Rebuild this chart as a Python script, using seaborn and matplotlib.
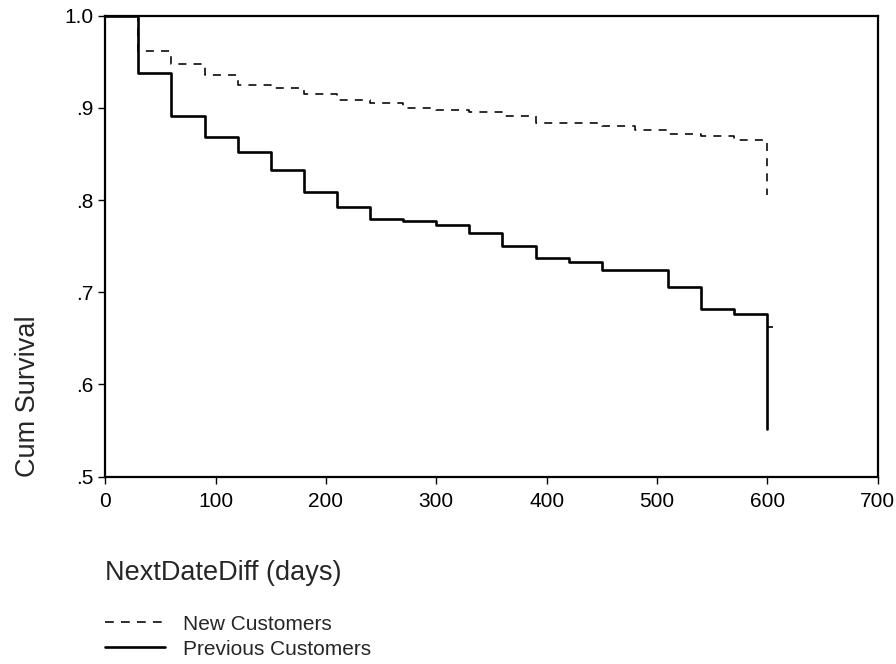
import numpy as np
import pandas as pd
import matplotlib
matplotlib.use("Agg")
import matplotlib.pyplot as plt
import seaborn as sns

# ---- data ----
new_days = [0, 30, 60, 90, 120, 150, 180, 210, 240, 270, 300, 330, 360, 390, 450, 480, 510, 540, 570, 600]
new_surv = [1.0, 0.962, 0.948, 0.936, 0.925, 0.922, 0.915, 0.909, 0.905, 0.900, 0.898, 0.896, 0.891, 0.884,
            0.880, 0.876, 0.872, 0.870, 0.865, 0.805]

prev_days = [0, 30, 60, 90, 120, 150, 180, 210, 240, 270, 300, 330, 360, 390, 420, 450, 510, 540, 570, 600]
prev_surv = [1.0, 0.938, 0.891, 0.868, 0.852, 0.833, 0.809, 0.792, 0.779, 0.777, 0.773, 0.764, 0.750, 0.737,
             0.733, 0.724, 0.706, 0.682, 0.676, 0.552]

censor_days = [600]
censor_prev = [0.662]

x_ticks = [0, 100, 200, 300, 400, 500, 600, 700]
y_ticks = [0.5, 0.6, 0.7, 0.8, 0.9, 1.0]
y_tick_labels = [".5", ".6", ".7", ".8", ".9", "1.0"]

series_names = ["New Customers", "Previous Customers"]

# ---- style ----
sns.set_style("ticks")
plt.rcParams["font.family"] = ["Liberation Sans", "DejaVu Sans"]

fig = plt.figure(figsize=(8.96, 6.64), dpi=100)
ax = fig.add_axes([0.1174, 0.2821, 0.9795 - 0.1174, 0.9764 - 0.2821])

df_new = pd.DataFrame({"day": new_days, "surv": new_surv})
df_prev = pd.DataFrame({"day": prev_days, "surv": prev_surv})

DASH = (5.0, 4.5)

sns.lineplot(data=df_new, x="day", y="surv", ax=ax, color="black", linewidth=1.15,
             drawstyle="steps-post", estimator=None, label=series_names[0])
sns.lineplot(data=df_prev, x="day", y="surv", ax=ax, color="black", linewidth=1.9,
             drawstyle="steps-post", estimator=None, label=series_names[1])
ax.lines[0].set_dashes(DASH)
ax.plot(censor_days, censor_prev, marker=1, color="black", markersize=4,
        markeredgewidth=1.2, linestyle="none")

ax.set_xlim(0, 700)
ax.set_ylim(0.5, 1.0)
ax.set_xticks(x_ticks)
ax.set_xticklabels([str(v) for v in x_ticks])
ax.set_yticks(y_ticks)
ax.set_yticklabels(y_tick_labels)

for s in ax.spines.values():
    s.set_visible(True)
    s.set_color("black")
    s.set_linewidth(1.6)

ax.tick_params(axis="both", direction="out", length=5, width=1.0, colors="black",
               labelsize=15)
ax.tick_params(axis="x", pad=6)
ax.tick_params(axis="y", pad=3.5)

ax.set_xlabel("NextDateDiff (days)", fontsize=19.5, loc="left")
ax.xaxis.set_label_coords(0.0, -0.181)
ax.set_ylabel("Cum Survival", fontsize=19.5, loc="bottom")
ax.yaxis.set_label_coords(-0.083, 0.0)

handles, labels = ax.get_legend_handles_labels()
ax.legend_.remove()
leg = fig.legend(handles[:2], labels[:2], loc="upper left",
                 bbox_to_anchor=(0.1172, 0.0745), bbox_transform=fig.transFigure,
                 frameon=False, fontsize=15, handlelength=2.9, handletextpad=0.85,
                 borderpad=0, borderaxespad=0, labelspacing=0.3)
leg.legend_handles[0].set_dashes((5.5, 4.5))
leg.legend_handles[0].set_linewidth(1.15)
leg.legend_handles[1].set_linewidth(1.9)

fig.savefig("out.png", dpi=100, facecolor="white")
